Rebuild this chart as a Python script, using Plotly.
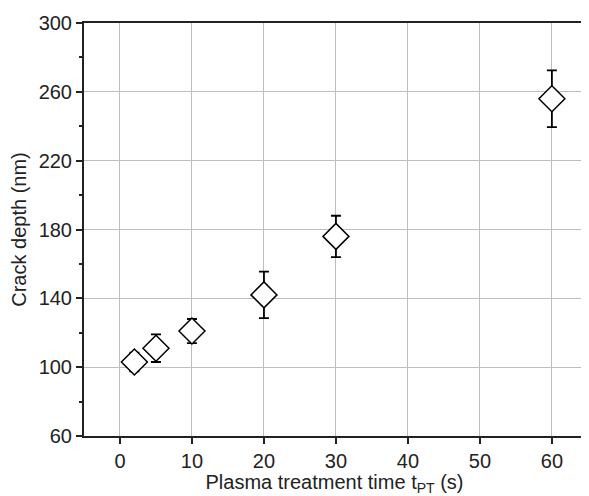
import plotly.graph_objects as go

time_s = [2, 5, 10, 20, 30, 60]
crack_depth = [103, 111, 121, 142, 176, 256]
error = [5.5, 8, 7, 13.5, 12, 16.5]

x_ticks = [0, 10, 20, 30, 40, 50, 60]
y_ticks = [60, 100, 140, 180, 220, 260, 300]

fig = go.Figure()
fig.add_trace(go.Scatter(
    x=time_s, y=crack_depth, mode="markers",
    marker=dict(symbol="diamond", size=20, color="white",
                line=dict(color="black", width=1.5)),
    error_y=dict(type="data", array=error, visible=True,
                 color="black", thickness=1.8, width=5),
    showlegend=False,
))

# The page body has an 8px default margin: figure is 581x488 placed at (8,8)
font = "Liberation Sans, Arial, sans-serif"
fig.update_layout(
    width=581, height=488,
    margin=dict(l=76, r=4, t=15, b=60),
    paper_bgcolor="white", plot_bgcolor="white",
    font=dict(family=font, color="#222", size=20),
    xaxis=dict(
        range=[-5, 64.6], tickvals=x_ticks, showgrid=True, automargin=False,
        gridcolor="#bdbdbd", gridwidth=1, zeroline=False,
        showline=True, linecolor="#222", linewidth=2, mirror=True,
        ticks="outside", ticklen=6, tickwidth=1.5, tickcolor="#222",
        tickfont=dict(size=20),
        title=dict(text="Plasma treatment time t<sub>PT</sub> (s)",
                   font=dict(size=20), standoff=3),
    ),
    yaxis=dict(
        range=[60, 300], tickvals=y_ticks, showgrid=True, automargin=False,
        gridcolor="#bdbdbd", gridwidth=1, zeroline=False,
        showline=True, linecolor="#222", linewidth=2, mirror=True,
        ticks="outside", ticklen=6, tickwidth=1.5, tickcolor="#222",
        tickfont=dict(size=20),
        minor=dict(dtick=20, ticks="outside", ticklen=3, tickcolor="#222", showgrid=False),
        title=dict(text="Crack depth (nm)", font=dict(size=20), standoff=8),
    ),
)

fig.write_html("out.html")
